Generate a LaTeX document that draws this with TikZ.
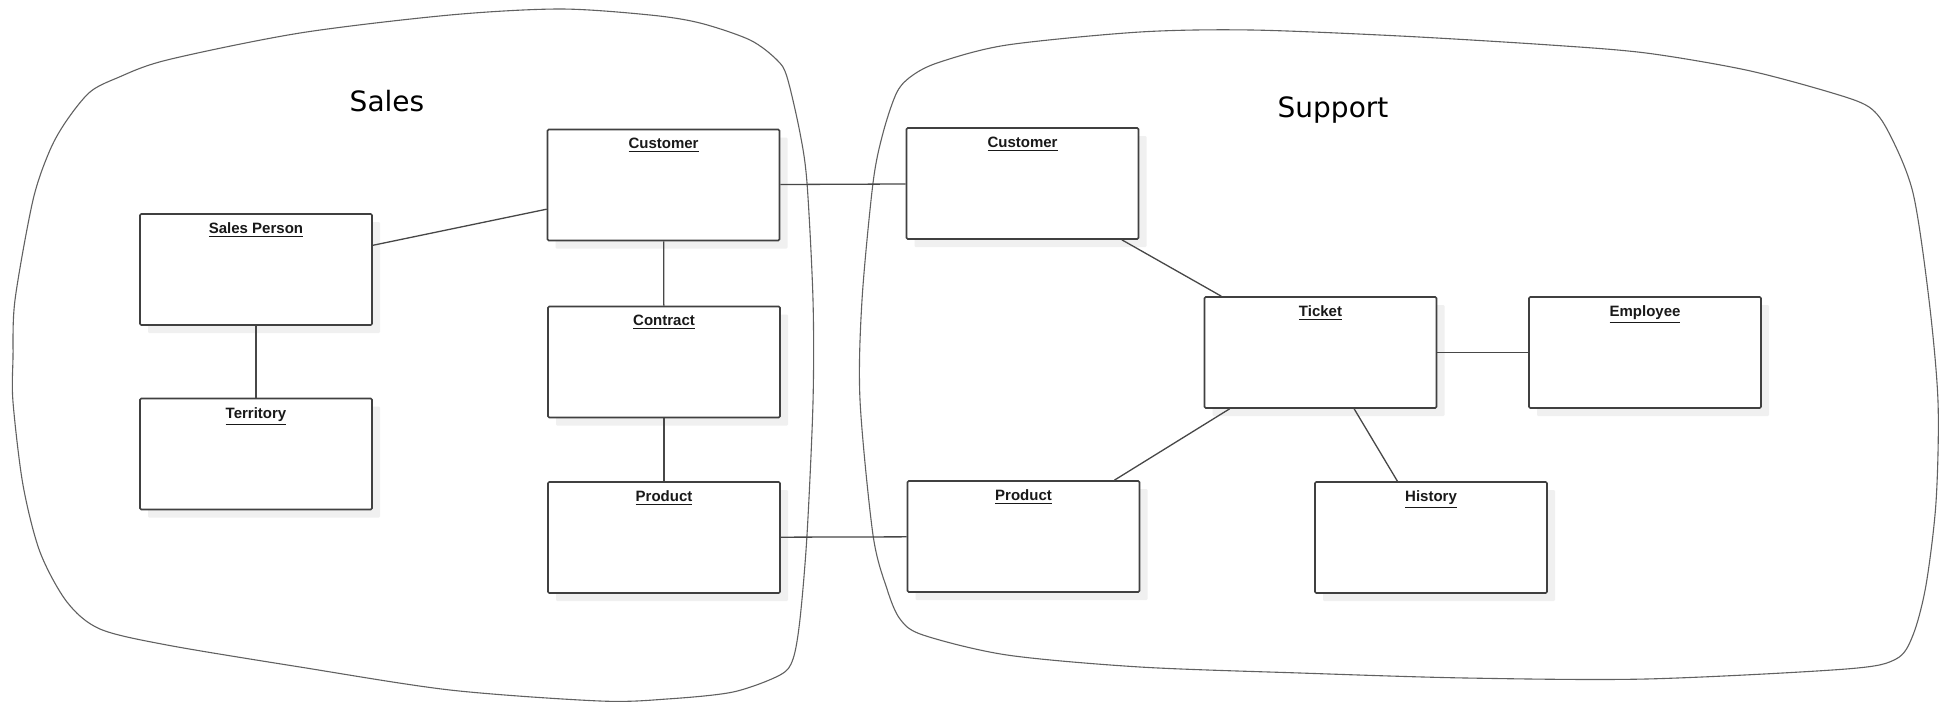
\documentclass[tikz,border=0pt]{standalone}
\usepackage{fontspec}
\setmainfont{Liberation Sans}
\newfontfamily\ctxfont{DejaVu Sans}
\usetikzlibrary{shadows}

\tikzset{
  entity/.style={draw=black!75, line width=0.8pt, rounded corners=0.6pt, fill=white,
    minimum width=116pt, minimum height=55.5pt, inner sep=0pt,
    drop shadow={shadow xshift=4pt, shadow yshift=-4pt, fill=black!6, opacity=1},
    label={[entitytitle]north:\underline{#1}}},
  entitytitle/.style={anchor=north, inner sep=0pt, yshift=-4.6pt,
    font=\fontsize{7.5}{9}\selectfont\bfseries, text=black!90},
  assoc/.style={draw=black!72, line width=0.65pt},
  ctxline/.style={draw=black!62, line width=0.55pt},
  ctxtitle/.style={anchor=base, inner sep=0pt, font=\ctxfont\fontsize{14}{16}\selectfont}
}

\begin{document}
\begin{tikzpicture}[x=0.5pt,y=-0.5pt]
  \useasboundingbox (0,0) rectangle (1946,702);
  \fill[white] (0,0) rectangle (1946,702);

  % bounded contexts
  \draw[ctxline] plot[smooth cycle, tension=0.5] coordinates {
    (13,358) (15,300) (33,200) (50,150) (67,120) (90,92) (117,78) (167,60)
    (300,33) (450,15) (560,9) (650,15) (700,23) (750,40) (777,60) (787,77)
    (800,133) (807,183) (813,300) (813,402) (807,535) (800,619) (793,659)
    (780,675) (733,692) (667,699) (600,701) (450,690) (300,667) (167,645)
    (100,629) (67,602) (40,552) (23,485) (13,402)};
  \draw[ctxline] plot[smooth cycle, tension=0.5] coordinates {
    (860,400) (862,300) (873,183) (883,133) (897,92) (913,75) (940,62)
    (1007,45) (1140,32) (1251,30) (1400,36) (1550,45) (1646,53) (1746,70)
    (1829,92) (1869,107) (1889,133) (1913,193) (1929,300) (1938,402)
    (1936,502) (1926,585) (1913,635) (1896,659) (1846,669) (1646,679)
    (1466,678) (1300,673) (1140,667) (1007,655) (923,635) (900,619)
    (887,589) (873,535)};
  \node[ctxtitle] (sales) at (387,111) {Sales};
  \node[ctxtitle] (support) at (1333,117) {Support};

  % Sales
  \node[entity=Sales Person] (sp) at (256,269.5) {};
  \node[entity=Territory] (ter) at (256,454) {};
  \node[entity=Customer] (cs1) at (663.5,185) {};
  \node[entity=Contract] (con) at (664,362) {};
  \node[entity=Product] (pr1) at (664,537.5) {};

  % Support
  \node[entity=Customer] (cs2) at (1022.5,183.5) {};
  \node[entity=Ticket] (tk) at (1320.5,352.5) {};
  \node[entity=Employee] (emp) at (1645,352.5) {};
  \node[entity=Product] (pr2) at (1023.5,536.5) {};
  \node[entity=History] (his) at (1431,537.5) {};

  \draw[assoc] (sp) -- (cs1);
  \draw[assoc] (sp) -- (ter);
  \draw[assoc] (cs1) -- (con);
  \draw[assoc] (con) -- (pr1);
  \draw[assoc] (cs1) -- (cs2);
  \draw[assoc] (pr1) -- (pr2);
  \draw[assoc] (cs2) -- (tk);
  \draw[assoc] (tk) -- (emp);
  \draw[assoc] (tk) -- (pr2);
  \draw[assoc] (tk) -- (his);
\end{tikzpicture}
\end{document}
